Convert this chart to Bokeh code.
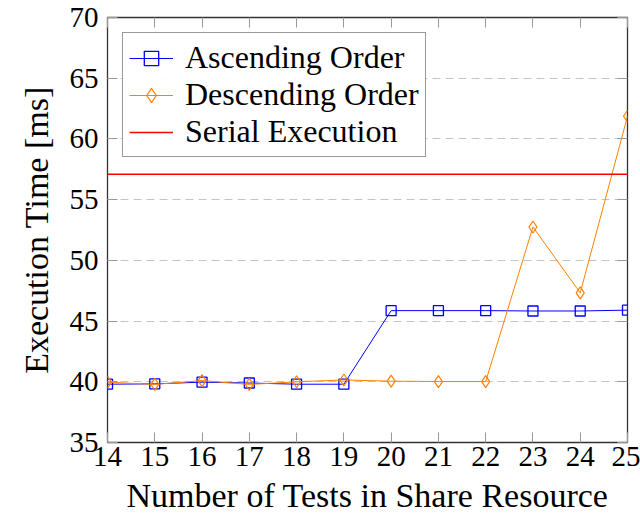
from bokeh.plotting import figure
from bokeh.models import LinearAxis, Range1d, FixedTicker, Legend, CustomJSTickFormatter
from bokeh.embed import file_html
from bokeh.resources import INLINE

tests = [14, 15, 16, 17, 18, 19, 20, 21, 22, 23, 24, 25]
ascending = [39.8, 39.83, 39.97, 39.9, 39.8, 39.8, 45.86, 45.86, 45.86, 45.83, 45.83, 45.9]
descending = [39.97, 39.78, 40.1, 39.78, 40.0, 40.15, 40.05, 40.02, 40.02, 52.75, 47.32, 61.87]
serial_time = 57.1
y_ticks = [35, 40, 45, 50, 55, 60, 65, 70]

FONT = "Liberation Serif"
TICK_FS = "29px"
LABEL_FS = "34px"
LEG_FS = "32px"

p = figure(width=640, height=524, output_backend="svg", toolbar_location=None,
           x_range=Range1d(14, 25), y_range=Range1d(35, 70),
           min_border_left=107, min_border_right=13, min_border_top=17, min_border_bottom=82)
p.background_fill_color = "white"
p.border_fill_color = "white"
p.outline_line_color = "#333333"
p.outline_line_width = 1.3

p.xgrid.visible = False
p.ygrid.grid_line_color = "#c4c4c4"
p.ygrid.grid_line_dash = "8 5"
p.ygrid.grid_line_width = 1
p.ygrid.ticker = FixedTicker(ticks=y_ticks)

for ax, ticks in ((p.xaxis[0], tests), (p.yaxis[0], y_ticks)):
    ax.ticker = FixedTicker(ticks=ticks)
    ax.major_tick_in = 10
    ax.major_tick_out = 0
    ax.minor_tick_in = 0
    ax.minor_tick_out = 0
    ax.axis_line_color = None
    ax.major_tick_line_color = "#999999"
    ax.major_label_text_font = FONT
    ax.major_label_text_font_size = TICK_FS
    ax.major_label_text_color = "black"
    ax.axis_label_text_font = FONT
    ax.axis_label_text_font_size = LABEL_FS
    ax.axis_label_text_font_style = "normal"
    ax.axis_label_text_color = "black"
p.xaxis.major_label_standoff = 4
p.yaxis.major_label_standoff = 9
p.xaxis.axis_label = "Number of Tests in Share Resource"
p.yaxis.axis_label = "Execution Time [ms]"
p.xaxis.axis_label_standoff = 8
p.yaxis.axis_label_standoff = 12

blank = CustomJSTickFormatter(code="return ''")
top = LinearAxis(ticker=FixedTicker(ticks=tests), major_tick_in=10, major_tick_out=0,
                 minor_tick_in=0, minor_tick_out=0, formatter=blank,
                 major_label_standoff=0, axis_line_color=None, major_tick_line_color="#999999")
right = LinearAxis(ticker=FixedTicker(ticks=y_ticks), major_tick_in=10, major_tick_out=0,
                   minor_tick_in=0, minor_tick_out=0, formatter=blank,
                   major_label_standoff=0, axis_line_color=None, major_tick_line_color="#999999")
p.add_layout(top, "above")
p.add_layout(right, "right")

blue = "#0000ff"
orange = "#ff8000"
red = "#ff0000"

l1 = p.line(tests, ascending, line_color=blue, line_width=1)
s1 = p.scatter(tests, ascending, marker="square", size=10, line_color=blue, line_width=1.3,
               fill_alpha=0)
l2 = p.line(tests, descending, line_color=orange, line_width=1)
s2 = p.scatter(tests, descending, marker="diamond", size=12, line_color=orange, line_width=1.2,
               fill_alpha=0)
l3 = p.line([tests[0], tests[-1]], [serial_time, serial_time], line_color=red, line_width=1.5)

legend = Legend(items=[("Ascending Order", [l1, s1]),
                       ("Descending Order", [l2, s2]),
                       ("Serial Execution", [l3])],
                location="top_left")
legend.label_text_font = FONT
legend.label_text_font_size = LEG_FS
legend.label_text_color = "black"
legend.border_line_color = "#333333"
legend.border_line_width = 1.2
legend.glyph_width = 44
legend.glyph_height = 36
legend.spacing = 0
legend.padding = 6
legend.margin = 15
legend.label_standoff = 12
legend.label_height = 36
p.add_layout(legend)

open("out.html", "w").write(file_html(p, INLINE))
